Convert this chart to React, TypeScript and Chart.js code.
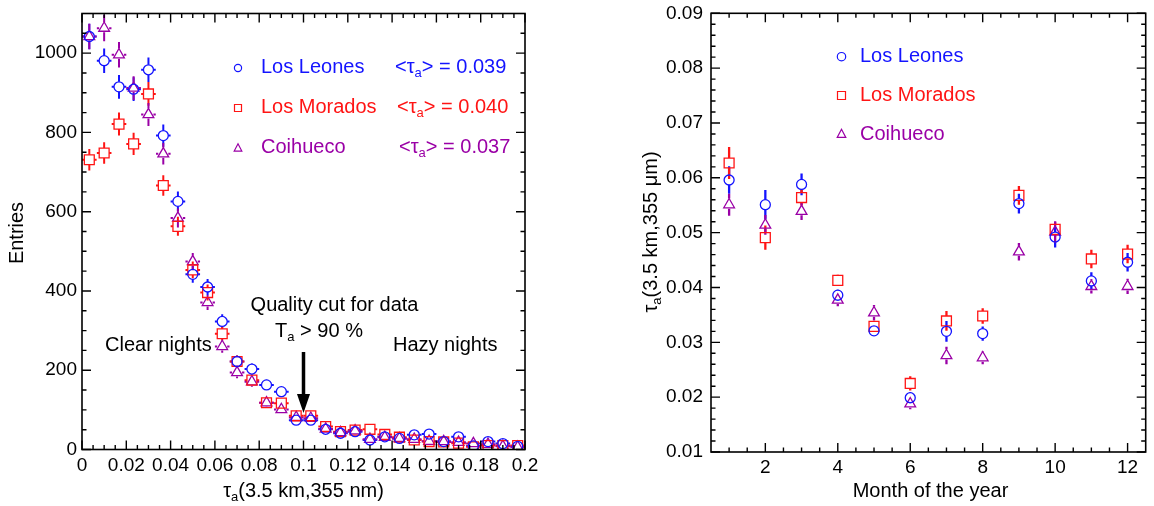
import { useEffect, useRef } from 'react';
import { Chart, registerables } from 'chart.js';

Chart.register(...registerables);

const FONT = "'Liberation Sans', Arial, Helvetica, sans-serif";
const BLUE = '#1414ff';
const RED = '#ff1414';
const PURPLE = '#9a00a6';

// ---------- Left panel: tau distribution ----------
const tauBinCenters = [
  0.0033, 0.01, 0.0167, 0.0233, 0.03, 0.0367, 0.0433, 0.05, 0.0567, 0.0633,
  0.07, 0.0767, 0.0833, 0.09, 0.0967, 0.1033, 0.11, 0.1167, 0.1233, 0.13,
  0.1367, 0.1433, 0.15, 0.1567, 0.1633, 0.17, 0.1767, 0.1833, 0.19, 0.1967,
];
const tauBinHalfWidth = 0.0033;

const leonesEntries = [1042, 981, 915, 909, 958, 792, 626, 442, 410, 323, 222, 203, 163, 146, 74, 74, 51, 41, 45, 24, 32, 28, 37, 39, 20, 32, 9, 20, 15, 8];
const leonesEntriesErr = [32, 31, 30, 30, 31, 28, 25, 21, 20, 18, 15, 14, 13, 12, 9, 9, 7, 6, 7, 5, 6, 5, 6, 6, 4, 6, 3, 4, 4, 3];
const moradosEntries = [731, 748, 821, 771, 897, 666, 563, 453, 396, 292, 222, 175, 118, 117, 85, 85, 58, 45, 49, 51, 38, 31, 24, 20, 19, 16, 7, 10, 10, 10];
const moradosEntriesErr = [27, 27, 29, 28, 30, 26, 24, 21, 20, 17, 15, 13, 11, 11, 9, 9, 8, 7, 7, 7, 6, 6, 5, 4, 4, 4, 3, 3, 3, 3];
const coihuecoEntries = [1042, 1063, 996, 912, 845, 746, 584, 474, 371, 260, 194, 171, 118, 101, 81, 79, 52, 43, 47, 26, 31, 28, 26, 21, 20, 18, 15, 13, 8, 6];
const coihuecoEntriesErr = [32, 33, 32, 30, 29, 27, 24, 22, 19, 16, 14, 13, 11, 10, 9, 9, 7, 7, 7, 5, 6, 5, 5, 5, 4, 4, 4, 4, 3, 2];

const tauTicks = [0, 0.02, 0.04, 0.06, 0.08, 0.1, 0.12, 0.14, 0.16, 0.18, 0.2];
const entriesTicks = [0, 200, 400, 600, 800, 1000];
const meanTauLabels = ['0.039', '0.040', '0.037'];

// ---------- Right panel: monthly tau ----------
const months = [1, 2, 3, 4, 5, 6, 7, 8, 9, 10, 11, 12];
const leonesMonthly = [0.0596, 0.0551, 0.0588, 0.0386, 0.0321, 0.0199, 0.032, 0.0316, 0.0553, 0.0492, 0.0412, 0.0446];
const leonesMonthlyErr = [0.0025, 0.0027, 0.002, 0.001, 0.0008, 0.001, 0.0019, 0.0013, 0.0018, 0.0019, 0.0016, 0.0017];
const moradosMonthly = [0.0627, 0.0491, 0.0564, 0.0413, 0.0329, 0.0225, 0.0339, 0.0348, 0.0568, 0.0506, 0.0452, 0.0461];
const moradosMonthlyErr = [0.0029, 0.0022, 0.0015, 0.001, 0.0008, 0.0013, 0.0018, 0.0014, 0.0017, 0.0013, 0.0017, 0.0017];
const coihuecoMonthly = [0.0551, 0.0514, 0.0539, 0.0377, 0.0354, 0.0188, 0.0276, 0.0272, 0.0465, 0.0501, 0.0402, 0.0402];
const coihuecoMonthlyErr = [0.002, 0.0018, 0.0016, 0.0011, 0.0014, 0.001, 0.0016, 0.0012, 0.0016, 0.002, 0.0013, 0.0014];

const monthTicks = [2, 4, 6, 8, 10, 12];
const monthlyTauTicks = [0.01, 0.02, 0.03, 0.04, 0.05, 0.06, 0.07, 0.08, 0.09];

const siteNames = ['Los Leones', 'Los Morados', 'Coihueco'];
const siteColors = [BLUE, RED, PURPLE];

type Part = { t: string; sub?: boolean };

function drawRich(ctx: CanvasRenderingContext2D, parts: Part[], x: number, y: number, size: number, color: string, align: 'left' | 'center') {
  ctx.save();
  ctx.fillStyle = color;
  ctx.textBaseline = 'middle';
  ctx.textAlign = 'left';
  let w = 0;
  for (const p of parts) {
    ctx.font = `${p.sub ? size * 0.65 : size}px ${FONT}`;
    w += ctx.measureText(p.t).width;
  }
  let cx = align === 'center' ? x - w / 2 : x;
  for (const p of parts) {
    ctx.font = `${p.sub ? size * 0.65 : size}px ${FONT}`;
    ctx.fillText(p.t, cx, p.sub ? y + size * 0.32 : y);
    cx += ctx.measureText(p.t).width;
  }
  ctx.restore();
}

function drawMarker(ctx: CanvasRenderingContext2D, style: string, x: number, y: number, r: number, color: string) {
  ctx.save();
  ctx.strokeStyle = color;
  ctx.lineWidth = 1.2;
  ctx.beginPath();
  if (style === 'circle') {
    ctx.arc(x, y, r, 0, Math.PI * 2);
  } else if (style === 'rect') {
    ctx.rect(x - r, y - r, 2 * r, 2 * r);
  } else {
    ctx.moveTo(x, y - r * 1.1);
    ctx.lineTo(x + r, y + r * 0.8);
    ctx.lineTo(x - r, y + r * 0.8);
    ctx.closePath();
  }
  ctx.stroke();
  ctx.restore();
}

type ErrSpec = { yErr: number[]; xErr?: number; color: string; gapTop: number; gapBottom: number; gapSide: number; width: number };

function makeDecor(id: string, opts: {
  xMajor: number[]; xMin: number; xMax: number; xMinorStep: number;
  yMajor: number[]; yMin: number; yMax: number; yMinorStep: number;
  errors: ErrSpec[];
  extra: (ctx: CanvasRenderingContext2D, chart: any) => void;
}) {
  return {
    id,
    beforeDatasetsDraw(chart: any) {
      const ctx: CanvasRenderingContext2D = chart.ctx;
      const xs = chart.scales.x;
      const ys = chart.scales.y;
      const a = chart.chartArea;
      ctx.save();
      ctx.beginPath();
      ctx.rect(a.left, a.top, a.right - a.left, a.bottom - a.top);
      ctx.clip();
      opts.errors.forEach((spec, di) => {
        const data = chart.data.datasets[di].data as { x: number; y: number }[];
        ctx.strokeStyle = spec.color;
        ctx.lineWidth = spec.width;
        ctx.lineCap = 'butt';
        data.forEach((d, j) => {
          const px = xs.getPixelForValue(d.x);
          const py = ys.getPixelForValue(d.y);
          const up = ys.getPixelForValue(d.y + spec.yErr[j]);
          const dn = ys.getPixelForValue(d.y - spec.yErr[j]);
          ctx.beginPath();
          if (py - up > spec.gapTop) {
            ctx.moveTo(px, py - spec.gapTop);
            ctx.lineTo(px, up);
          }
          if (dn - py > spec.gapBottom) {
            ctx.moveTo(px, py + spec.gapBottom);
            ctx.lineTo(px, dn);
          }
          if (spec.xErr) {
            const l = xs.getPixelForValue(d.x - spec.xErr);
            const r = xs.getPixelForValue(d.x + spec.xErr);
            if (px - l > spec.gapSide) {
              ctx.moveTo(l, py);
              ctx.lineTo(px - spec.gapSide, py);
              ctx.moveTo(px + spec.gapSide, py);
              ctx.lineTo(r, py);
            }
          }
          ctx.stroke();
        });
      });
      ctx.restore();
    },
    afterDraw(chart: any) {
      const ctx: CanvasRenderingContext2D = chart.ctx;
      const xs = chart.scales.x;
      const ys = chart.scales.y;
      const a = chart.chartArea;
      ctx.save();
      ctx.strokeStyle = '#000';
      ctx.lineWidth = 1.6;
      ctx.strokeRect(a.left, a.top, a.right - a.left, a.bottom - a.top);
      ctx.lineWidth = 1.4;
      const isMajor = (v: number, list: number[]) => list.some((m) => Math.abs(m - v) < 1e-9);
      const drawX = (v: number, len: number) => {
        const px = xs.getPixelForValue(v);
        ctx.beginPath();
        ctx.moveTo(px, a.bottom);
        ctx.lineTo(px, a.bottom - len);
        ctx.moveTo(px, a.top);
        ctx.lineTo(px, a.top + len);
        ctx.stroke();
      };
      const drawY = (v: number, len: number) => {
        const py = ys.getPixelForValue(v);
        ctx.beginPath();
        ctx.moveTo(a.left, py);
        ctx.lineTo(a.left + len, py);
        ctx.moveTo(a.right, py);
        ctx.lineTo(a.right - len, py);
        ctx.stroke();
      };
      opts.xMajor.forEach((v) => drawX(v, 9));
      const nx = Math.round((opts.xMax - opts.xMin) / opts.xMinorStep);
      for (let i = 1; i < nx; i++) {
        const v = opts.xMin + i * opts.xMinorStep;
        if (!isMajor(v, opts.xMajor)) drawX(v, 4.5);
      }
      opts.yMajor.forEach((v) => drawY(v, 9));
      const ny = Math.round((opts.yMax - opts.yMin) / opts.yMinorStep);
      for (let i = 1; i < ny; i++) {
        const v = opts.yMin + i * opts.yMinorStep;
        if (!isMajor(v, opts.yMajor)) drawY(v, 4.5);
      }
      ctx.restore();
      opts.extra(ctx, chart);
    },
  };
}

const tickFont = { family: FONT, size: 19 };

function LeftChart() {
  const ref = useRef<HTMLCanvasElement>(null);
  useEffect(() => {
    const series = [leonesEntries, moradosEntries, coihuecoEntries];
    const errs = [leonesEntriesErr, moradosEntriesErr, coihuecoEntriesErr];
    const styles = ['circle', 'rect', 'triangle'];
    const radii = [5, 7, 6.2];
    const chart = new Chart(ref.current!, {
      type: 'scatter',
      data: {
        datasets: series.map((vals, i) => ({
          label: siteNames[i],
          data: tauBinCenters.map((x, j) => ({ x, y: vals[j] })),
          pointStyle: styles[i] as any,
          pointRadius: radii[i],
          borderColor: siteColors[i],
          backgroundColor: 'rgba(0,0,0,0)',
          borderWidth: 1.3,
        })),
      },
      options: {
        animation: false,
        responsive: false,
        events: [],
        layout: { padding: { left: 0, right: 52, top: 13.5, bottom: 0 } },
        plugins: { legend: { display: false }, tooltip: { enabled: false } },
        scales: {
          x: {
            type: 'linear',
            min: 0,
            max: 0.2,
            grid: { display: false, drawTicks: false },
            border: { display: false },
            ticks: { font: tickFont, color: '#000', padding: 5, maxRotation: 0, callback: (v: any) => String(Number(Number(v).toFixed(2))) },
            afterBuildTicks: (s: any) => { s.ticks = tauTicks.map((v) => ({ value: v })); },
            afterFit: (s: any) => { s.height = 56.5; s.paddingLeft = 0; s.paddingRight = 0; },
          },
          y: {
            type: 'linear',
            min: 0,
            max: 1100,
            grid: { display: false, drawTicks: false },
            border: { display: false },
            ticks: { font: tickFont, color: '#000', padding: 5, callback: (v: any) => String(Math.round(Number(v))) },
            afterBuildTicks: (s: any) => { s.ticks = entriesTicks.map((v) => ({ value: v })); },
            afterFit: (s: any) => { s.width = 82; s.paddingTop = 0; s.paddingBottom = 0; },
          },
        },
      },
      plugins: [
        makeDecor('leftDecor', {
          xMajor: tauTicks, xMin: 0, xMax: 0.2, xMinorStep: 0.005,
          yMajor: entriesTicks, yMin: 0, yMax: 1100, yMinorStep: 50,
          errors: errs.map((e, i) => ({
            yErr: e, xErr: tauBinHalfWidth, color: siteColors[i],
            gapTop: i === 2 ? 6.2 : 5, gapBottom: i === 2 ? 4 : 5, gapSide: 5, width: 2,
          })),
          extra: (ctx, ch) => {
            const xs = ch.scales.x;
            // legend
            const rows = [67, 107, 147];
            const meanX = [395, 397, 399];
            rows.forEach((y, i) => {
              drawMarker(ctx, styles[i], 238, y + 1, i === 0 ? 3.6 : i === 1 ? 3.5 : 3.8, siteColors[i]);
              drawRich(ctx, [{ t: siteNames[i] }], 261, y, 20, siteColors[i], 'left');
              drawRich(ctx, [{ t: '<τ' }, { t: 'a', sub: true }, { t: '> = ' + meanTauLabels[i] }], meanX[i], y, 20, siteColors[i], 'left');
            });
            // annotations
            drawRich(ctx, [{ t: 'Quality cut for data' }], 334.5, 305.5, 20, '#000', 'center');
            drawRich(ctx, [{ t: 'T' }, { t: 'a', sub: true }, { t: ' > 90 %' }], 319, 331.5, 20, '#000', 'center');
            drawRich(ctx, [{ t: 'Clear nights' }], 105, 345, 20, '#000', 'left');
            drawRich(ctx, [{ t: 'Hazy nights' }], 393, 345, 20, '#000', 'left');
            // arrow at the cut value
            const ax = xs.getPixelForValue(0.1);
            ctx.save();
            ctx.strokeStyle = '#000';
            ctx.fillStyle = '#000';
            ctx.lineWidth = 3.5;
            ctx.beginPath();
            ctx.moveTo(ax, 352);
            ctx.lineTo(ax, 396);
            ctx.stroke();
            ctx.beginPath();
            ctx.moveTo(ax - 6.5, 394);
            ctx.lineTo(ax + 6.5, 394);
            ctx.lineTo(ax, 413);
            ctx.closePath();
            ctx.fill();
            ctx.restore();
            // axis titles
            drawRich(ctx, [{ t: 'τ' }, { t: 'a', sub: true }, { t: '(3.5 km,355 nm)' }], 303.5, 491, 20, '#000', 'center');
            ctx.save();
            ctx.translate(17.5, 233);
            ctx.rotate(-Math.PI / 2);
            drawRich(ctx, [{ t: 'Entries' }], 0, 0, 20, '#000', 'center');
            ctx.restore();
          },
        }),
      ],
    });
    return () => chart.destroy();
  }, []);
  return <canvas ref={ref} width={577} height={506} style={{ position: 'absolute', left: 0, top: 0, display: 'block' }} />;
}

function RightChart() {
  const ref = useRef<HTMLCanvasElement>(null);
  useEffect(() => {
    const series = [leonesMonthly, moradosMonthly, coihuecoMonthly];
    const errs = [leonesMonthlyErr, moradosMonthlyErr, coihuecoMonthlyErr];
    const styles = ['circle', 'rect', 'triangle'];
    const radii = [5, 7, 6.2];
    const chart = new Chart(ref.current!, {
      type: 'scatter',
      data: {
        datasets: series.map((vals, i) => ({
          label: siteNames[i],
          data: months.map((x, j) => ({ x, y: vals[j] })),
          pointStyle: styles[i] as any,
          pointRadius: radii[i],
          borderColor: siteColors[i],
          backgroundColor: 'rgba(0,0,0,0)',
          borderWidth: 1.3,
        })),
      },
      options: {
        animation: false,
        responsive: false,
        events: [],
        layout: { padding: { left: 0, right: 4, top: 13.3, bottom: 0 } },
        plugins: { legend: { display: false }, tooltip: { enabled: false } },
        scales: {
          x: {
            type: 'linear',
            min: 0.5,
            max: 12.5,
            grid: { display: false, drawTicks: false },
            border: { display: false },
            ticks: { font: tickFont, color: '#000', padding: 4, maxRotation: 0 },
            afterBuildTicks: (s: any) => { s.ticks = monthTicks.map((v) => ({ value: v })); },
            afterFit: (s: any) => { s.height = 54; s.paddingLeft = 0; s.paddingRight = 0; },
          },
          y: {
            type: 'linear',
            min: 0.01,
            max: 0.09,
            grid: { display: false, drawTicks: false },
            border: { display: false },
            ticks: { font: tickFont, color: '#000', padding: 8, callback: (v: any) => Number(v).toFixed(2) },
            afterBuildTicks: (s: any) => { s.ticks = monthlyTauTicks.map((v) => ({ value: v })); },
            afterFit: (s: any) => { s.width = 134; s.paddingTop = 0; s.paddingBottom = 0; },
          },
        },
      },
      plugins: [
        makeDecor('rightDecor', {
          xMajor: monthTicks, xMin: 0.5, xMax: 12.5, xMinorStep: 0.5,
          yMajor: monthlyTauTicks, yMin: 0.01, yMax: 0.09, yMinorStep: 0.002,
          errors: errs.map((e, i) => ({
            yErr: e, color: siteColors[i],
            gapTop: i === 2 ? 6.2 : 5, gapBottom: i === 2 ? 4 : 5, gapSide: 5, width: 2.3,
          })),
          extra: (ctx) => {
            const rows = [56.7, 95.5, 134];
            rows.forEach((y, i) => {
              drawMarker(ctx, styles[i], 264.5, y, i === 0 ? 4.2 : i === 1 ? 4 : 4.3, siteColors[i]);
              drawRich(ctx, [{ t: siteNames[i] }], 283, y, 20, siteColors[i], 'left');
            });
            drawRich(ctx, [{ t: 'Month of the year' }], 353.5, 491, 20, '#000', 'center');
            ctx.save();
            ctx.translate(74, 232);
            ctx.rotate(-Math.PI / 2);
            drawRich(ctx, [{ t: 'τ' }, { t: 'a', sub: true }, { t: '(3.5 km,355 μm)' }], 0, 0, 20, '#000', 'center');
            ctx.restore();
          },
        }),
      ],
    });
    return () => chart.destroy();
  }, []);
  return <canvas ref={ref} width={577} height={506} style={{ position: 'absolute', left: 577, top: 0, display: 'block' }} />;
}

export default function App() {
  return (
    <div style={{ position: 'absolute', left: 0, top: 0, width: 1154, height: 506, background: '#fff', overflow: 'hidden' }}>
      <LeftChart />
      <RightChart />
    </div>
  );
}
